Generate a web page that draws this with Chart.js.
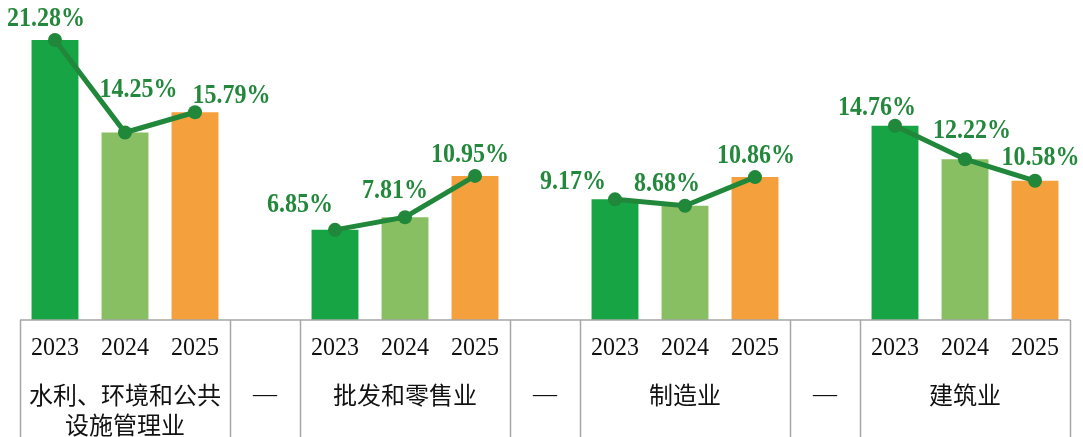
<!DOCTYPE html>
<html>
<head>
<meta charset="utf-8">
<script src="https://cdn.jsdelivr.net/npm/chart.js@4/dist/chart.umd.min.js"></script>
<style>
  html, body { margin: 0; padding: 0; background: #fff; }
  #wrap { width: 1083px; height: 437px; position: relative; }
</style>
</head>
<body>
<div id="wrap"><canvas id="rateChart"></canvas></div>
<script>
// data
const years = ['2023', '2024', '2025'];
const industries = [['水利、环境和公共', '设施管理业'], ['批发和零售业'], ['制造业'], ['建筑业']];
const rate2023 = [21.28, 6.85, 9.17, 14.76];
const rate2024 = [14.25, 7.81, 8.68, 12.22];
const rate2025 = [15.79, 10.95, 10.86, 10.58];
const separatorLabel = '—';

// label nudges (px) for each point, in drawing order
const labelOffsets = [
  [-9, -21], [13.5, -42], [36.5, -16.5],
  [-35, -25], [-10, -26], [-5, -21],
  [-42, -17], [-18, -22], [1, -21],
  [-18, -18], [7, -28], [5.5, -22.5]
];

const colors = {
  y2023: '#17a445',
  y2024: '#88bf62',
  y2025: '#f4a03c',
  line: '#21873a',
  label: '#23883b',
  grid: '#a6a6a6',
  text: '#111111'
};

// build the slot layout: 3 years per industry, one separator slot between groups
const slots = [];
const bar2023 = [], bar2024 = [], bar2025 = [], lineData = [];
industries.forEach((name, g) => {
  years.forEach((yr, k) => {
    slots.push({ type: 'year', text: yr, group: g, k: k });
    const v = [rate2023, rate2024, rate2025][k][g];
    bar2023.push(k === 0 ? v : null);
    bar2024.push(k === 1 ? v : null);
    bar2025.push(k === 2 ? v : null);
    lineData.push(v);
  });
  if (g < industries.length - 1) {
    slots.push({ type: 'sep', text: separatorLabel });
    bar2023.push(null); bar2024.push(null); bar2025.push(null); lineData.push(null);
  }
});

const serif = '"Liberation Serif", "Times New Roman", "Noto Sans CJK SC", serif';
const cjk = '"Noto Sans CJK SC", "Liberation Serif", serif';

// the reference text is a touch taller than Liberation Serif, so stretch it a bit
function tallText(ctx, text, x, y, sy) {
  ctx.save();
  ctx.translate(x, y);
  ctx.scale(1, sy);
  ctx.fillText(text, 0, 0);
  ctx.restore();
}

const valueLabels = {
  id: 'valueLabels',
  afterDatasetsDraw(chart) {
    const ctx = chart.ctx;
    const meta = chart.getDatasetMeta(3);
    ctx.save();
    ctx.font = 'bold 24px ' + serif;
    ctx.fillStyle = colors.label;
    ctx.textAlign = 'center';
    ctx.textBaseline = 'middle';
    let n = 0;
    meta.data.forEach((pt, i) => {
      const v = lineData[i];
      if (v === null) return;
      const off = labelOffsets[n++] || [0, -22];
      tallText(ctx, v.toFixed(2) + '%', pt.x + off[0], pt.y + off[1], 1.1);
    });
    ctx.restore();
  }
};

const tableAxis = {
  id: 'tableAxis',
  afterDraw(chart) {
    const ctx = chart.ctx;
    const area = chart.chartArea;
    const x = chart.scales.x;
    const slotW = (area.right - area.left) / slots.length;
    const bottom = chart.height;
    ctx.save();
    ctx.strokeStyle = colors.grid;
    ctx.lineWidth = 1.5;
    ctx.beginPath();
    ctx.moveTo(area.left, area.bottom);
    ctx.lineTo(area.right, area.bottom);
    // vertical borders around every group and separator
    const edges = [0];
    slots.forEach((s, i) => {
      if (s.type === 'sep') { edges.push(i); edges.push(i + 1); }
    });
    edges.push(slots.length);
    edges.forEach(e => {
      const px = Math.round(area.left + e * slotW) + 0.5;
      ctx.moveTo(px, area.bottom);
      ctx.lineTo(px, bottom);
    });
    ctx.stroke();

    ctx.fillStyle = colors.text;
    ctx.textAlign = 'center';
    ctx.textBaseline = 'middle';
    slots.forEach((s, i) => {
      const cx = x.getPixelForValue(i);
      if (s.type === 'year') {
        ctx.font = '24px ' + serif;
        tallText(ctx, s.text, cx, 348, 1.08);
        if (s.k === 1) {
          ctx.font = '24px ' + cjk;
          industries[s.group].forEach((line, j) => {
            ctx.fillText(line, cx, 395 + j * 30);
          });
        }
      } else {
        ctx.font = '24px ' + serif;
        ctx.fillText(s.text, cx, 395);
      }
    });
    ctx.restore();
  }
};

const barDefaults = { type: 'bar', grouped: false, categoryPercentage: 1, barPercentage: 0.67, order: 1 };

new Chart(document.getElementById('rateChart'), {
  data: {
    labels: slots.map(s => s.text),
    datasets: [
      Object.assign({ label: '2023', data: bar2023, backgroundColor: colors.y2023 }, barDefaults),
      Object.assign({ label: '2024', data: bar2024, backgroundColor: colors.y2024 }, barDefaults),
      Object.assign({ label: '2025', data: bar2025, backgroundColor: colors.y2025 }, barDefaults),
      {
        type: 'line',
        label: '增速',
        data: lineData,
        borderColor: colors.line,
        backgroundColor: colors.line,
        borderWidth: 5,
        pointRadius: 7,
        pointBackgroundColor: colors.line,
        pointBorderWidth: 0,
        spanGaps: false,
        tension: 0,
        clip: false,
        order: 0
      }
    ]
  },
  options: {
    responsive: true,
    maintainAspectRatio: false,
    animation: false,
    layout: { autoPadding: false, padding: { left: 20, right: 13, top: 0, bottom: 117 } },
    plugins: {
      legend: { display: false },
      tooltip: { enabled: false }
    },
    scales: {
      x: { display: false, offset: true },
      y: { display: false, min: 0, max: 24.32 }
    }
  },
  plugins: [valueLabels, tableAxis]
});
</script>
</body>
</html>
